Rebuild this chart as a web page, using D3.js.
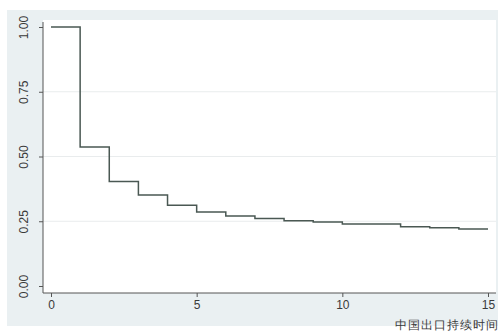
<!DOCTYPE html>
<html>
<head>
<meta charset="utf-8">
<script src="https://cdn.jsdelivr.net/npm/d3@7"></script>
<style>
    body { margin: 0; background: #fff; }
    svg { display: block; }
    text { font-family: "Liberation Sans", Arial, sans-serif; fill: #3a3a3a; }
</style>
</head>
<body>
<svg></svg>
<script>
// Survival estimates (step after each year)
const years = [0, 1, 2, 3, 4, 5, 6, 7, 8, 9, 10, 11, 12, 13, 14, 15];
const survival = [1.0, 0.537, 0.403, 0.351, 0.312, 0.286, 0.270, 0.261, 0.252, 0.247, 0.239, 0.239, 0.229, 0.225, 0.220, 0.220];
const yTicks = [0, 0.25, 0.5, 0.75, 1];
const xTicks = [0, 5, 10, 15];
const xLabel = '中国出口持续时间';

const width = 498;
const height = 333;

const svg = d3.select('svg')
    .attr('width', width)
    .attr('height', height);

// Graph region (light blue-grey) and plot region (white)
svg.append('rect')
    .attr('x', 7).attr('y', 10)
    .attr('width', width - 7).attr('height', 316)
    .attr('fill', '#eaf0f2');

const plot = {left: 43, top: 20, right: 496, bottom: 293};

svg.append('rect')
    .attr('x', plot.left).attr('y', plot.top)
    .attr('width', plot.right - plot.left).attr('height', plot.bottom - plot.top)
    .attr('fill', '#ffffff');

const x = d3.scaleLinear().domain([0, 15]).range([51, 488]);
const y = d3.scaleLinear().domain([0, 1]).range([286, 27]);

// Faint gridlines
svg.append('g')
    .selectAll('line')
    .data(yTicks.filter(d => d > 0 && d < 1))
    .join('line')
    .attr('x1', plot.left).attr('x2', plot.right)
    .attr('y1', d => y(d)).attr('y2', d => y(d))
    .attr('stroke', '#e9eced')
    .attr('stroke-width', 1);

// Axes
const yAxis = svg.append('g')
    .attr('transform', `translate(${plot.left},0)`)
    .call(d3.axisLeft(y).tickValues(yTicks).tickFormat(d3.format('.2f')).tickSize(4).tickSizeOuter(0));

yAxis.select('.domain').attr('d', `M0,${plot.top + 2}V${plot.bottom}`);

yAxis.selectAll('.tick text')
    .attr('transform', 'rotate(-90)')
    .attr('x', 0)
    .attr('y', -15)
    .attr('dy', 0)
    .attr('text-anchor', 'middle')
    .attr('font-size', 12);

const xAxis = svg.append('g')
    .attr('transform', `translate(0,${plot.bottom})`)
    .call(d3.axisBottom(x).tickValues(xTicks).tickSize(4).tickSizeOuter(0));

xAxis.select('.domain').attr('d', `M${plot.left},0H${plot.right}`);

xAxis.selectAll('.tick text')
    .attr('y', 7)
    .attr('font-size', 12);

svg.selectAll('.domain, .tick line')
    .attr('stroke', '#555');
svg.selectAll('.tick text')
    .attr('fill', '#333')
    .attr('font-family', '"Liberation Sans", Arial, sans-serif');

// Step line
const line = d3.line()
    .x((d, i) => x(years[i]))
    .y(d => y(d))
    .curve(d3.curveStepAfter);

svg.append('path')
    .datum(survival)
    .attr('d', line)
    .attr('fill', 'none')
    .attr('stroke', '#4a5853')
    .attr('stroke-width', 1.5);

// Axis title
svg.append('text')
    .attr('x', 499)
    .attr('y', 329)
    .attr('text-anchor', 'end')
    .attr('font-size', 12)
    .attr('letter-spacing', 1)
    .attr('fill', '#444')
    .attr('font-family', '"Noto Sans CJK SC", sans-serif')
    .text(xLabel);
</script>
</body>
</html>
